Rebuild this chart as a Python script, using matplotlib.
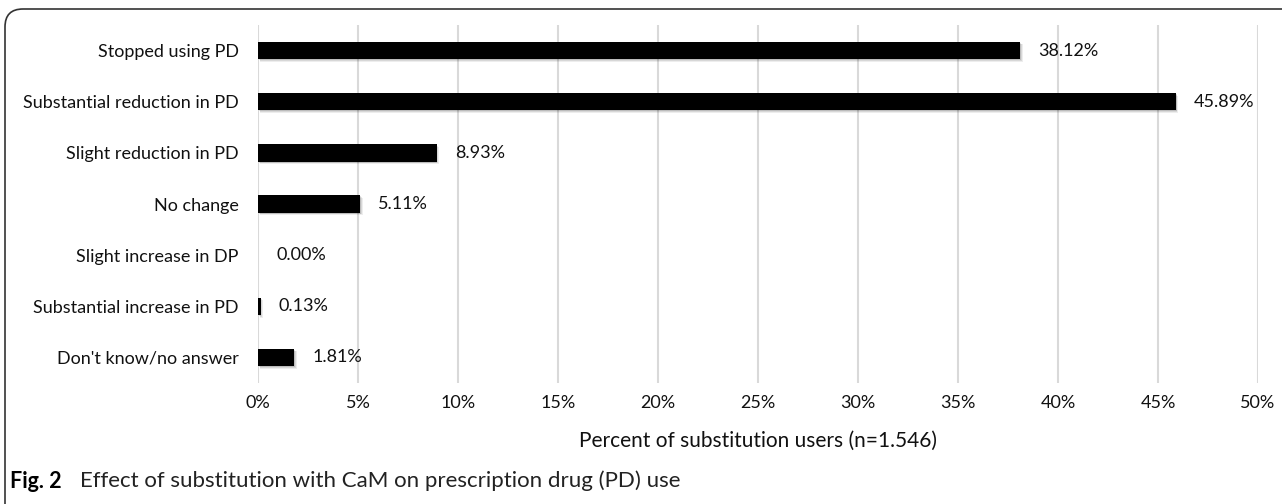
import matplotlib
matplotlib.use("Agg")
import matplotlib.pyplot as plt
from matplotlib.patches import FancyBboxPatch
from matplotlib.ticker import MultipleLocator, FuncFormatter

categories = ["Stopped using PD", "Substantial reduction in PD", "Slight reduction in PD",
              "No change", "Slight increase in DP", "Substantial increase in PD",
              "Don't know/no answer"]
values = [38.12, 45.89, 8.93, 5.11, 0.00, 0.13, 1.81]
value_labels = ["38.12%", "45.89%", "8.93%", "5.11%", "0.00%", "0.13%", "1.81%"]

plt.rcParams['font.family'] = ['Lato', 'DejaVu Sans']

fig = plt.figure(figsize=(12.82, 5.04), dpi=100)
ax = fig.add_axes([258 / 1282, 1 - 383 / 504, 1000 / 1282, 358 / 504])

ypos = list(range(len(categories)))
# soft shadow under each bar
for dx, dy, a in [(0.12, 0.05, 0.07), (0.08, 0.035, 0.09), (0.04, 0.02, 0.12)]:
    ax.barh([y + dy for y in ypos], values, height=0.34, left=dx, color="black",
            alpha=a, zorder=2, linewidth=0)
ax.barh(ypos, values, height=0.34, color="black", zorder=3)

for y, v, lab in zip(ypos, values, value_labels):
    ax.annotate(lab, (v, y), xytext=(13, 0), textcoords="offset points",
                va="center", ha="left", fontsize=13, color="#111111")

ax.set_xlim(0, 50)
ax.set_ylim(len(categories) - 0.5, -0.5)
ax.set_yticks(ypos)
ax.set_yticklabels(categories, fontsize=13, color="#111111")
ax.xaxis.set_major_locator(MultipleLocator(5))
ax.xaxis.set_major_formatter(FuncFormatter(lambda x, p: "%d%%" % x))
ax.tick_params(axis="x", labelsize=13, colors="#111111", length=0, pad=9)
ax.tick_params(axis="y", length=0, pad=14)
ax.grid(axis="x", color="#d9d9d9", linewidth=1.5, zorder=0)
ax.set_axisbelow(True)
for s in ax.spines.values():
    s.set_visible(False)
ax.set_xlabel("Percent of substitution users (n=1.546)", fontsize=15, color="#111111", labelpad=14)

# border around figure (top and left only visible)
box = FancyBboxPatch((5 / 1282, -0.2), 1.2, 1.2 - 9 / 504,
                     boxstyle="round,pad=0,rounding_size=0.014",
                     transform=fig.transFigure, fill=False, edgecolor="#333333",
                     linewidth=1.2, mutation_aspect=1282 / 504)
fig.patches.append(box)

fig.text(10 / 1282, 1 - 481 / 504, "Fig. 2", fontsize=15.5, fontweight="bold", va="center")
fig.text(80 / 1282, 1 - 481 / 504, "Effect of substitution with CaM on prescription drug (PD) use",
         fontsize=16, va="center", color="#222222")

fig.savefig("out.png", dpi=100)
